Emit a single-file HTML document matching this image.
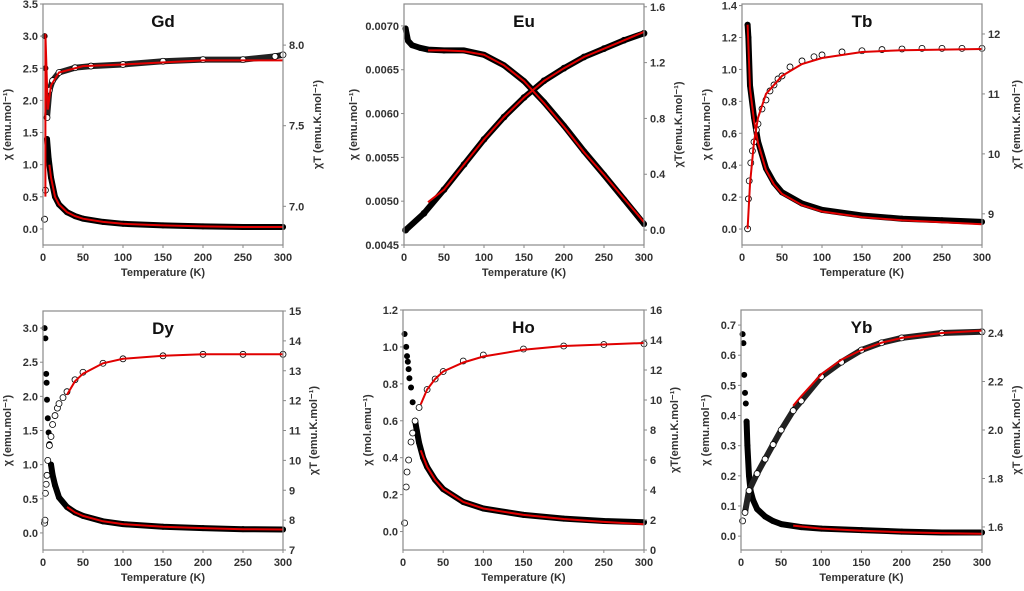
<!DOCTYPE html>
<html><head><meta charset="utf-8"><style>
body{margin:0;background:#fff;}
svg{display:block;font-family:"Liberation Sans",Arial,sans-serif;}
</style></head><body>
<svg id="fig" width="1024" height="591" viewBox="0 0 1024 591"></svg>
<script>
const tempTicks=[0,50,100,150,200,250,300];
// Gd
const gdChiT=[2,3,5,7,10,15,20,30,40,50,75,100,150,200,250,300];
const gdChi=[3.0,2.5,1.4,1.1,0.8,0.5,0.38,0.26,0.2,0.16,0.11,0.08,0.055,0.04,0.03,0.03];
const gdXtT=[2,3,5,8,12,20,40,60,100,150,200,250,290,300];
const gdXt=[6.92,7.1,7.55,7.72,7.78,7.83,7.86,7.87,7.88,7.9,7.91,7.91,7.93,7.94];
const gdFitChiT=[8,10,15,20,30,40,50,75,100,150,200,250,300];
const gdFitChi=[1.0,0.8,0.5,0.38,0.26,0.2,0.16,0.11,0.08,0.055,0.04,0.03,0.03];
const gdFitXtT=[3,3,6,10,20,50,100,200,300];
const gdFitXt=[7.06,8.07,7.6,7.75,7.83,7.87,7.88,7.905,7.905];
// Eu
const euChiT=[2,5,10,20,30,50,75,100,125,150,175,200,225,250,275,300];
const euChi=[0.00697,0.00683,0.00678,0.00675,0.00673,0.00672,0.00672,0.00667,0.00655,0.00637,0.00613,0.00586,0.00557,0.0053,0.00502,0.00474];
const euXtT=[2,25,50,75,100,125,150,175,200,225,250,275,300];
const euXt=[0.0,0.12,0.29,0.47,0.65,0.81,0.95,1.07,1.16,1.24,1.3,1.36,1.41];
const euFitChiT=[30,50,75,100,125,150,175,200,225,250,275,300];
const euFitChi=[0.00672,0.00672,0.00671,0.00667,0.00655,0.00637,0.00612,0.00585,0.00556,0.0053,0.00503,0.00476];
const euFitXtT=[30,50,75,100,125,150,175,200,225,250,275,300];
const euFitXt=[0.2,0.29,0.47,0.65,0.81,0.95,1.07,1.16,1.24,1.3,1.36,1.42];
// Tb
const tbChiT=[7,8,10,15,20,30,40,50,75,100,150,200,250,300];
const tbChi=[1.28,1.2,0.9,0.7,0.55,0.38,0.29,0.23,0.16,0.12,0.085,0.065,0.055,0.045];
const tbXtT=[7,8,9,11,13,15,18,20,25,30,35,40,45,50,60,75,90,100,125,150,175,200,225,250,275,300];
const tbXt=[8.75,9.25,9.55,9.85,10.05,10.2,10.4,10.5,10.75,10.9,11.05,11.15,11.25,11.3,11.45,11.55,11.62,11.65,11.7,11.72,11.74,11.75,11.76,11.76,11.76,11.76];
const tbFitChiT=[7,8,10,15,20,30,40,50,75,100,150,200,250,300];
const tbFitChi=[1.28,1.15,0.88,0.68,0.54,0.37,0.28,0.22,0.15,0.11,0.075,0.055,0.042,0.03];
const tbFitXtT=[7,10,15,20,30,50,75,100,150,200,300];
const tbFitXt=[8.75,9.5,10.2,10.6,11.0,11.3,11.5,11.6,11.7,11.73,11.75];
// Dy
const dyChiT=[2,3,4,4.5,5,6,7,8,10,12,15,20,30,40,50,75,100,150,200,250,300];
const dyChi=[3.0,2.85,2.33,2.2,1.95,1.68,1.47,1.3,1.0,0.85,0.7,0.52,0.38,0.3,0.25,0.17,0.13,0.09,0.07,0.055,0.05];
const dyXtT=[2,2.5,3,4,5,6,8,10,12,15,18,20,25,30,40,50,75,100,150,200,250,300];
const dyXt=[7.9,8.0,8.9,9.2,9.5,10.0,10.5,10.8,11.2,11.5,11.75,11.9,12.1,12.3,12.7,12.95,13.25,13.4,13.5,13.55,13.55,13.55];
const dyFitChiT=[30,40,50,75,100,150,200,250,300];
const dyFitChi=[0.38,0.3,0.25,0.17,0.13,0.09,0.07,0.055,0.05];
const dyFitXtT=[30,40,50,75,100,150,200,250,300];
const dyFitXt=[12.2,12.65,12.9,13.25,13.4,13.5,13.55,13.55,13.55];
// Ho
const hoChiT=[2,4,5,6,7,8,10,12,15,17,20,25,30,40,50,75,100,150,200,250,300];
const hoChi=[1.07,1.0,0.95,0.92,0.88,0.83,0.78,0.7,0.6,0.55,0.48,0.4,0.35,0.28,0.23,0.16,0.125,0.09,0.07,0.057,0.05];
const hoXtT=[2,4,5,7,10,12,15,20,30,40,50,75,100,150,200,250,300];
const hoXt=[1.8,4.2,5.2,6.0,7.2,7.8,8.6,9.5,10.7,11.4,11.9,12.6,13.0,13.4,13.6,13.7,13.75];
const hoFitChiT=[22,30,40,50,75,100,150,200,250,300];
const hoFitChi=[0.44,0.35,0.28,0.23,0.16,0.125,0.09,0.068,0.052,0.04];
const hoFitXtT=[22,30,40,50,75,100,150,200,250,300];
const hoFitXt=[9.7,10.7,11.4,11.9,12.5,12.9,13.35,13.6,13.7,13.8];
// Yb
const ybChiT=[2,3,4,5,6,7,8,10,12,15,20,30,40,50,75,100,150,200,250,300];
const ybChi=[0.67,0.64,0.535,0.475,0.44,0.38,0.3,0.2,0.15,0.12,0.09,0.065,0.05,0.04,0.03,0.025,0.02,0.015,0.012,0.012];
const ybXtT=[2,5,10,20,30,40,50,65,75,100,125,150,175,200,250,300];
const ybXt=[1.625,1.66,1.75,1.82,1.88,1.94,2.0,2.08,2.12,2.22,2.28,2.33,2.36,2.38,2.4,2.405];
const ybFitChiT=[65,100,150,200,250,300];
const ybFitChi=[0.035,0.025,0.018,0.013,0.01,0.008];
const ybFitXtT=[65,75,100,125,150,175,200,250,300];
const ybFitXt=[2.1,2.14,2.23,2.29,2.33,2.36,2.38,2.4,2.41];

const panels=[
 {n:'gd',title:'Gd',x0:43,x1:283,y0:4,y1:245,l:[-0.25,3.5],r:[6.76,8.255],lt:[0,0.5,1,1.5,2,2.5,3,3.5],rt:[7.0,7.5,8.0],ld:1,rd:1,ll:'χ (emu.mol⁻¹)',rl:'χT (emu.K.mol⁻¹)',bf:5,bf2:5,
  chiT:gdChiT,chi:gdChi,xtT:gdXtT,xt:gdXt,fcT:gdFitChiT,fc:gdFitChi,fxT:gdFitXtT,fx:gdFitXt,open:'dense'},
 {n:'eu',title:'Eu',x0:404,x1:644,y0:4,y1:245,l:[0.0045,0.00725],r:[-0.107,1.62],lt:[0.0045,0.005,0.0055,0.006,0.0065,0.007],rt:[0,0.4,0.8,1.2,1.6],ld:4,rd:1,ll:'χ (emu.mol⁻¹)',rl:'χT(emu.K.mol⁻¹)',bf:0,bf2:0,
  chiT:euChiT,chi:euChi,xtT:euXtT,xt:euXt,fcT:euFitChiT,fc:euFitChi,fxT:euFitXtT,fx:euFitXt,open:'filled'},
 {n:'tb',title:'Tb',x0:742,x1:982,y0:4,y1:245,l:[-0.1,1.41],r:[8.48,12.5],lt:[0,0.2,0.4,0.6,0.8,1.0,1.2,1.4],rt:[9,10,11,12],ld:1,rd:0,ll:'χ (emu.mol⁻¹)',rl:'χT (emu.K.mol⁻¹)',bf:7,bf2:0,
  chiT:tbChiT,chi:tbChi,xtT:tbXtT,xt:tbXt,fcT:tbFitChiT,fc:tbFitChi,fxT:tbFitXtT,fx:tbFitXt,open:'sparse'},
 {n:'dy',title:'Dy',x0:43,x1:283,y0:311,y1:550,l:[-0.25,3.25],r:[7,15],lt:[0,0.5,1,1.5,2,2.5,3],rt:[7,8,9,10,11,12,13,14,15],ld:1,rd:0,ll:'χ (emu.mol⁻¹)',rl:'χT (emu.K.mol⁻¹)',bf:10,bf2:0,
  chiT:dyChiT,chi:dyChi,xtT:dyXtT,xt:dyXt,fcT:dyFitChiT,fc:dyFitChi,fxT:dyFitXtT,fx:dyFitXt,open:'sparse'},
 {n:'ho',title:'Ho',x0:403,x1:644,y0:310,y1:550,l:[-0.1,1.2],r:[0,16],lt:[0,0.2,0.4,0.6,0.8,1.0,1.2],rt:[0,2,4,6,8,10,12,14,16],ld:1,rd:0,ll:'χ (mol.emu⁻¹)',rl:'χT(emu.K.mol⁻¹)',bf:15,bf2:0,
  chiT:hoChiT,chi:hoChi,xtT:hoXtT,xt:hoXt,fcT:hoFitChiT,fc:hoFitChi,fxT:hoFitXtT,fx:hoFitXt,open:'sparse'},
 {n:'yb',title:'Yb',x0:741,x1:982,y0:310,y1:550,l:[-0.046,0.75],r:[1.505,2.495],lt:[0,0.1,0.2,0.3,0.4,0.5,0.6,0.7],rt:[1.6,1.8,2.0,2.2,2.4],ld:1,rd:1,ll:'χ (emu.mol⁻¹)',rl:'χT (emu.K.mol⁻¹)',bf:7,bf2:5,
  chiT:ybChiT,chi:ybChi,xtT:ybXtT,xt:ybXt,fcT:ybFitChiT,fc:ybFitChi,fxT:ybFitXtT,fx:ybFitXt,open:'dense'}
];
const NS='http://www.w3.org/2000/svg';
const svg=document.getElementById('fig');
function mk(tag,attrs,parent){const e=document.createElementNS(NS,tag);for(const k in attrs)e.setAttribute(k,attrs[k]);(parent||svg).appendChild(e);return e;}
function txt(s,attrs,parent){const e=mk('text',attrs,parent);e.textContent=s;return e;}
panels.forEach(p=>{
 const g=mk('g',{});
 
 
 const X=t=>p.x0+(t-0)/(300-0)*(p.x1-p.x0);
 const YL=v=>p.y1-(v-p.l[0])/(p.l[1]-p.l[0])*(p.y1-p.y0);
 const YR=v=>p.y1-(v-p.r[0])/(p.r[1]-p.r[0])*(p.y1-p.y0);
 const path=(ts,vs,f,from)=>{let s='',first=true;ts.forEach((t,i)=>{if(t<(from||0))return;s+=(first?'M':'L')+X(t).toFixed(1)+','+f(vs[i]).toFixed(1);first=false;});return s;};
 const band=mk('path',{d:path(p.chiT,p.chi,YL,p.bf),fill:'none',stroke:'#000','stroke-width':6,'stroke-linejoin':'round','stroke-linecap':'round'},g);
 
 
 p.chiT.forEach((t,i)=>{const c=mk('circle',{cx:X(t),cy:YL(p.chi[i]),r:3,fill:'#000'},g);
  
  });
 if(p.open!=='sparse'){
  const b2=mk('path',{d:path(p.xtT,p.xt,YR,p.bf2),fill:'none',stroke:p.open==='filled'?'#000':'#222','stroke-width':p.open==='filled'?6:6,'stroke-linejoin':'round'},g);
  
  
 }
 p.xtT.forEach((t,i)=>{const c=mk('circle',{cx:X(t),cy:YR(p.xt[i]),r:3,fill:p.open==='filled'?'#000':'#fff',stroke:'#000','stroke-width':0.8},g);
  
  });
 const f1=mk('path',{d:path(p.fcT,p.fc,YL),fill:'none',stroke:'#e00000','stroke-width':2},g);
 
 
 const f2=mk('path',{d:path(p.fxT,p.fx,YR),fill:'none',stroke:'#e00000','stroke-width':2},g);
 
 
 const fr=mk('rect',{x:p.x0,y:p.y0,width:p.x1-p.x0,height:p.y1-p.y0,fill:'none',stroke:'#8a8a8a','stroke-width':1.2},g);
 
 
 const ts={fill:'#333','font-size':11,'font-weight':'bold'};
 tempTicks.forEach(t=>{mk('line',{x1:X(t),x2:X(t),y1:p.y1,y2:p.y1+3,stroke:'#8a8a8a'},g);
  const e=txt(String(t),Object.assign({x:X(t),y:p.y1+16,'text-anchor':'middle'},ts),g);
  
  });
 p.lt.forEach(v=>{mk('line',{x1:p.x0-3,x2:p.x0,y1:YL(v),y2:YL(v),stroke:'#8a8a8a'},g);
  const e=txt(v.toFixed(p.ld),Object.assign({x:p.x0-5,y:YL(v)+4,'text-anchor':'end'},ts),g);
  
  });
 p.rt.forEach(v=>{mk('line',{x1:p.x1,x2:p.x1+3,y1:YR(v),y2:YR(v),stroke:'#8a8a8a'},g);
  const e=txt(v.toFixed(p.rd),Object.assign({x:p.x1+6,y:YR(v)+4,'text-anchor':'start'},ts),g);
  
  });
 const tt=txt(p.title,{x:(p.x0+p.x1)/2,y:p.y0+23,'text-anchor':'middle','font-size':17,'font-weight':'bold',fill:'#111'},g);
 
 
 const xl=txt('Temperature (K)',Object.assign({x:(p.x0+p.x1)/2,y:p.y1+31,'text-anchor':'middle'},ts),g);
 
 
 const cy=(p.y0+p.y1)/2;
 const lx=p.ld===4?p.x0-47:p.x0-32;
 const yl=txt(p.ll,Object.assign({x:lx,y:cy,'text-anchor':'middle',transform:`rotate(-90 ${lx} ${cy})`},ts),g);
 
 
 const rx=p.x1+(p.n==='ho'||p.n==='dy'?34:38);
 const yr=txt(p.rl,Object.assign({x:rx,y:cy,'text-anchor':'middle',transform:`rotate(-90 ${rx} ${cy})`},ts),g);
 
 
});
</script>
</body></html>
